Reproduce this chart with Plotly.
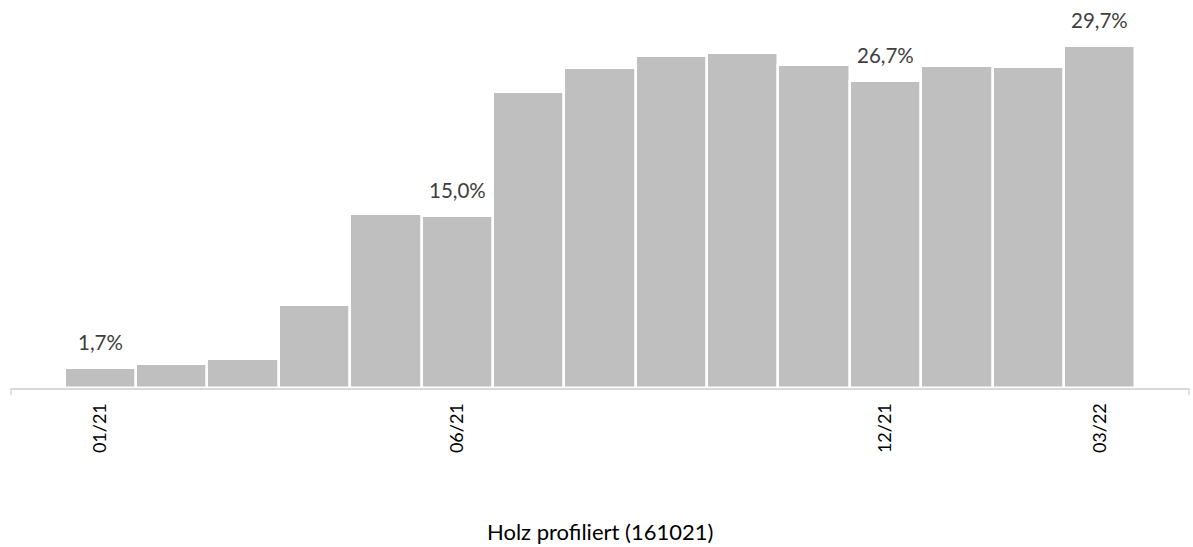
import plotly.graph_objects as go

# Monthly share, Holz profiliert (161021)
months = ["01/21", "02/21", "03/21", "04/21", "05/21", "06/21", "07/21", "08/21",
          "09/21", "10/21", "11/21", "12/21", "01/22", "02/22", "03/22"]
share_pct = [1.7, 2.1, 2.5, 7.2, 15.1, 15.0, 25.7, 27.8, 28.9, 29.1, 28.1, 26.7, 28.0, 27.9, 29.7]
tick_months = ["01/21", "06/21", "12/21", "03/22"]
labelled_months = ["01/21", "06/21", "12/21", "03/22"]
title_text = "Holz profiliert (161021)"

FONT = "Lato"
BAR_COLOR = "#BFBFBF"
AXIS_COLOR = "#D9D9D9"

fig = go.Figure(
    go.Bar(
        x=months,
        y=share_pct,
        width=1,
        marker=dict(color=BAR_COLOR, line=dict(color="white", width=2.5)),
        hoverinfo="skip",
    )
)

# value labels above selected bars (German decimal comma)
for m, v in zip(months, share_pct):
    if m in labelled_months:
        fig.add_annotation(
            x=m, y=v, xref="x", yref="y",
            text=f"{v:.1f}%".replace(".", ","),
            showarrow=False, yanchor="middle", yshift=26,
            font=dict(family=FONT, size=20.5, color="#404040"),
        )

# chart caption below the axis
fig.add_annotation(
    x=0.5, y=-0.39, xref="paper", yref="paper",
    text=title_text, showarrow=False, yanchor="middle",
    font=dict(family=FONT, size=22, color="#000000"),
)

# short tick marks closing both ends of the category axis
for xd in (0, 1):
    fig.add_shape(
        type="line", xref="x domain", yref="y domain",
        x0=xd, x1=xd, y0=0, y1=-0.02,
        line=dict(color=AXIS_COLOR, width=1.5),
    )

fig.update_layout(
    width=1193, height=547,
    margin=dict(l=11, r=4, t=20, b=159),
    paper_bgcolor="white", plot_bgcolor="white",
    bargap=0, showlegend=False,
    font=dict(family=FONT),
)
fig.update_xaxes(
    type="category", range=[-1.25, 15.25],
    tickmode="array", tickvals=tick_months, ticktext=tick_months,
    tickangle=-90, ticks="", showgrid=False, zeroline=False,
    showline=True, linecolor=AXIS_COLOR, linewidth=2,
    tickfont=dict(family=FONT, size=18, color="#000000"),
    ticklabelstandoff=6,
)
fig.update_yaxes(range=[0, 32], visible=False, showgrid=False, zeroline=False)

fig.write_html("out.html")
